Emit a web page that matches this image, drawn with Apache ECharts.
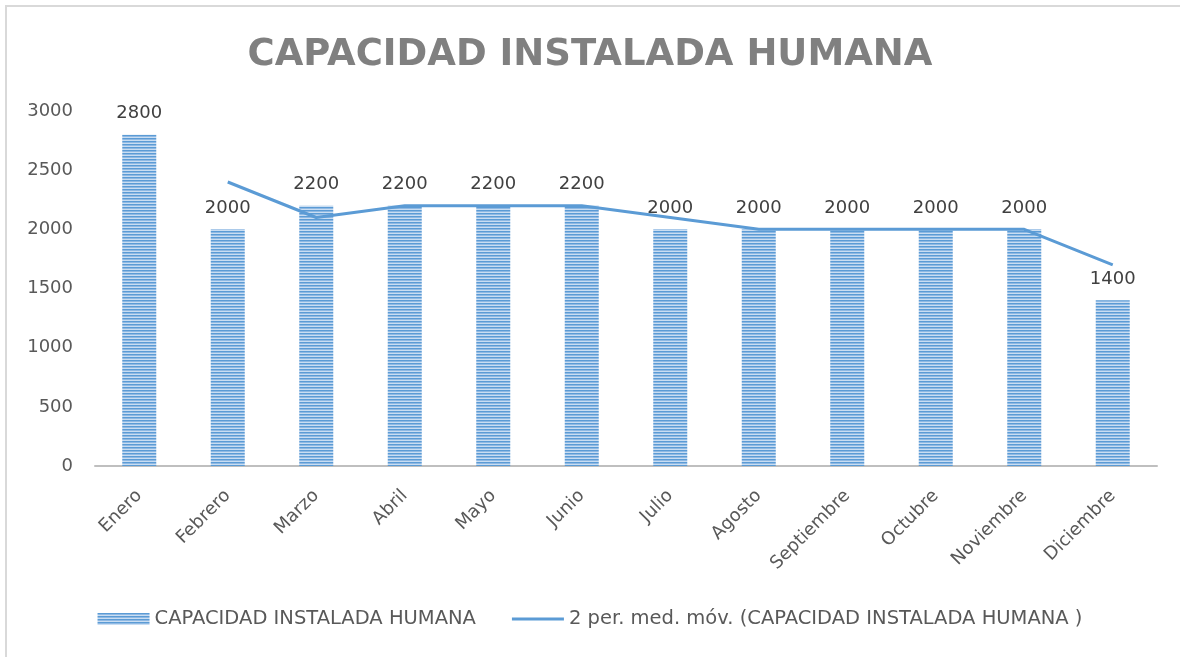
<!DOCTYPE html>
<html>
<head>
<meta charset="utf-8">
<script src="https://cdn.jsdelivr.net/npm/echarts@6/dist/echarts.min.js"></script>
<style>
  html, body { margin: 0; padding: 0; background: #fff; }
  #chart { width: 1180px; height: 657px; }
</style>
</head>
<body>
<div id="chart"></div>
<script>
const months = ['Enero', 'Febrero', 'Marzo', 'Abril', 'Mayo', 'Junio', 'Julio', 'Agosto', 'Septiembre', 'Octubre', 'Noviembre', 'Diciembre'];
const capacidad = [2800, 2000, 2200, 2200, 2200, 2200, 2000, 2000, 2000, 2000, 2000, 1400];
// media móvil de 2 periodos (Excel), primer punto vacío
const mediaMovil = [null, 2400, 2100, 2200, 2200, 2200, 2100, 2000, 2000, 2000, 2000, 1700];

const serieBarras = 'CAPACIDAD INSTALADA HUMANA';
const serieLinea = '2 per. med. móv. (CAPACIDAD INSTALADA HUMANA )';

// trama de rayas horizontales como la de Excel
function stripePattern() {
  const c = document.createElement('canvas');
  c.width = 4; c.height = 3;
  const ctx = c.getContext('2d');
  ctx.fillStyle = '#5b9bd5'; ctx.fillRect(0, 0, 4, 1);
  ctx.fillStyle = '#8fb9e3'; ctx.fillRect(0, 1, 4, 1);
  ctx.fillStyle = '#c9ddf2'; ctx.fillRect(0, 2, 4, 1);
  return c;
}

const chart = echarts.init(document.getElementById('chart'));
const txt = '#595959';
const font = 'DejaVu Sans';

chart.setOption({
  backgroundColor: '#fff',
  animation: false,
  title: {
    text: 'CAPACIDAD INSTALADA HUMANA',
    left: 'center',
    top: 32,
    textStyle: { fontFamily: font, fontWeight: 'bold', fontSize: 37, color: '#808080' }
  },
  // borde del área del gráfico (solo izquierda y arriba quedan visibles)
  graphic: [{
    type: 'polyline',
    shape: { points: [[6, 660], [6, 6], [1180, 6]] },
    style: { fill: null, stroke: '#d9d9d9', lineWidth: 2 },
    silent: true
  }],
  legend: {
    bottom: 23,
    left: 'center',
    itemGap: 36,
    itemWidth: 52,
    itemHeight: 12,
    textStyle: { fontFamily: font, fontSize: 19.5, color: txt },
    data: [
      { name: serieBarras, icon: 'rect' },
      { name: serieLinea, icon: 'path://M0,0H52V3H0Z' }
    ]
  },
  grid: { left: 95, right: 23, top: 111, bottom: 191 },
  xAxis: {
    type: 'category',
    data: months,
    axisTick: { show: false },
    axisLine: { lineStyle: { color: '#bfbfbf', width: 2 } },
    axisLabel: { rotate: 45, margin: 27, fontFamily: font, fontSize: 18, color: txt }
  },
  yAxis: {
    type: 'value',
    min: 0,
    max: 3000,
    interval: 500,
    splitLine: { show: false },
    axisLine: { show: false },
    axisTick: { show: false },
    axisLabel: { margin: 22, fontFamily: font, fontSize: 18, color: txt, formatter: v => String(v) }
  },
  series: [
    {
      name: serieBarras,
      type: 'bar',
      data: capacidad,
      barWidth: 34,
      itemStyle: { color: { image: stripePattern(), repeat: 'repeat' } },
      label: { show: true, position: 'top', distance: 12, fontFamily: font, fontSize: 18, color: '#404040' }
    },
    {
      name: serieLinea,
      type: 'line',
      data: mediaMovil,
      symbol: 'none',
      lineStyle: { color: '#5b9bd5', width: 3 },
      itemStyle: { color: '#5b9bd5' }
    }
  ]
});
</script>
</body>
</html>
